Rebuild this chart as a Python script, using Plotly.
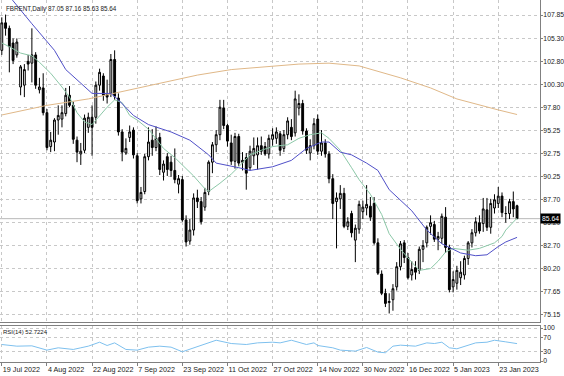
import plotly.graph_objects as go
import pandas as pd

# ---------------- data ----------------
trading_days = pd.bdate_range("2022-07-19", "2023-01-30")
closed_days = {"2022-12-26", "2023-01-02"}
dates = [f"{d.day} {d:%b %Y}" for d in trading_days if d.strftime("%Y-%m-%d") not in closed_days]

tick_labels = ["19 Jul 2022", "4 Aug 2022", "22 Aug 2022", "7 Sep 2022", "23 Sep 2022",
               "11 Oct 2022", "27 Oct 2022", "14 Nov 2022", "30 Nov 2022", "16 Dec 2022",
               "5 Jan 2023", "23 Jan 2023"]

opens = [104.0, 107.0, 106.4, 104.8, 103.5, 100.0, 100.2, 102.8, 102.6, 103.5,
         99.7, 99.9, 97.2, 93.5, 94.0, 96.4, 96.5, 97.1, 99.1, 98.0,
         94.2, 92.7, 93.1, 95.6, 96.7, 96.7, 100.2, 101.2, 99.2, 99.3,
         103.0, 98.8, 95.1, 92.8, 94.5, 95.3, 92.5, 87.8, 88.6, 92.4,
         94.2, 93.4, 94.5, 90.7, 92.4, 91.8, 90.9, 89.4, 89.9, 85.5,
         83.2, 84.4, 87.9, 87.5, 86.9, 88.6, 91.8, 93.7, 94.8, 97.7,
         95.8, 93.9, 91.9, 94.6, 91.8, 92.3, 91.2, 92.5, 92.6, 93.6,
         93.5, 92.7, 94.3, 94.4, 94.9, 93.3, 94.8, 95.6, 95.0, 97.7,
         98.2, 95.2, 92.8, 93.6, 96.5, 93.0, 93.9, 92.7, 90.0, 87.5,
         87.8, 88.4, 84.8, 86.2, 83.3, 84.5, 86.4, 86.8, 87.0, 87.3,
         83.0, 79.6, 77.5, 76.5, 76.8, 78.2, 80.4, 83.0, 81.4, 79.5,
         80.3, 80.0, 82.3, 83.0, 84.8, 85.0, 83.4, 83.5, 85.8, 82.5,
         78.2, 78.6, 79.2, 79.5, 81.3, 83.0, 84.1, 85.2, 85.1, 86.6,
         84.7, 86.8, 87.3, 88.1, 86.2, 86.2, 87.5, 87.05]
highs = [107.6, 107.9, 106.7, 105.3, 105.3, 102.4, 102.5, 103.5, 106.4, 103.8,
         101.0, 101.5, 97.6, 95.1, 96.6, 98.0, 98.0, 99.9, 100.1, 98.4,
         94.6, 93.9, 97.0, 97.2, 98.0, 100.6, 102.0, 101.5, 100.8, 103.6,
         104.0, 99.3, 95.4, 94.4, 95.8, 95.6, 92.8, 89.1, 92.7, 95.6,
         95.4, 95.7, 95.0, 92.0, 92.8, 92.5, 93.3, 90.4, 90.3, 86.0,
         85.6, 88.4, 88.8, 88.0, 89.0, 92.0, 94.0, 95.3, 98.6, 98.6,
         96.0, 94.8, 95.0, 94.9, 92.9, 92.8, 93.6, 94.5, 94.5, 94.6,
         94.0, 94.8, 95.5, 95.6, 95.2, 95.3, 96.7, 96.5, 99.6, 99.2,
         98.6, 95.5, 94.3, 96.6, 97.0, 95.3, 94.3, 93.0, 90.5, 88.5,
         89.3, 89.0, 85.8, 86.5, 85.0, 87.6, 87.6, 89.3, 88.0, 88.0,
         83.5, 80.0, 78.0, 77.5, 78.5, 80.9, 83.2, 83.3, 81.9, 81.0,
         81.0, 82.6, 83.3, 84.9, 86.0, 85.4, 84.2, 86.2, 86.9, 82.8,
         79.9, 80.5, 81.0, 81.6, 83.2, 84.5, 85.8, 86.0, 87.9, 87.9,
         87.8, 88.3, 89.1, 88.5, 87.0, 87.8, 88.6, 87.16]
lows = [103.5, 105.6, 101.6, 102.5, 103.2, 99.1, 98.9, 101.8, 100.5, 99.8,
        99.3, 96.9, 93.1, 92.9, 93.0, 94.8, 95.6, 96.8, 97.8, 93.8,
        91.8, 91.5, 92.8, 95.0, 92.5, 96.0, 99.6, 98.5, 98.2, 98.9,
        98.6, 94.7, 91.9, 92.6, 94.0, 92.2, 87.3, 87.3, 88.3, 92.0,
        92.5, 93.0, 90.4, 89.8, 90.3, 90.2, 89.5, 88.4, 85.3, 82.6,
        82.8, 83.8, 86.8, 85.0, 86.5, 88.2, 90.6, 92.9, 94.2, 95.4,
        93.5, 91.5, 91.1, 91.4, 90.9, 88.8, 90.9, 91.5, 91.0, 92.6,
        92.5, 92.2, 93.6, 93.8, 92.5, 92.9, 94.3, 94.2, 94.6, 96.9,
        94.8, 92.7, 92.0, 93.2, 92.6, 92.5, 92.3, 89.5, 85.6, 82.4,
        86.7, 84.6, 84.4, 83.6, 80.9, 84.0, 85.6, 86.0, 85.4, 82.8,
        79.5, 77.3, 76.0, 75.3, 75.6, 77.8, 80.0, 80.8, 79.0, 78.9,
        79.0, 79.6, 80.9, 82.5, 83.9, 83.1, 82.2, 82.9, 81.9, 77.6,
        77.6, 77.9, 78.4, 79.0, 80.6, 82.5, 83.7, 84.0, 84.2, 84.3,
        84.0, 86.2, 86.8, 85.8, 85.2, 85.6, 85.8, 85.63]
closes = [107.0, 106.4, 104.4, 102.9, 104.9, 102.2, 101.9, 102.5, 103.5, 100.2,
          100.0, 97.2, 93.4, 94.2, 96.4, 96.9, 97.2, 99.1, 98.0, 94.3,
          92.9, 93.0, 96.6, 96.7, 95.6, 100.2, 101.6, 99.1, 98.9, 103.0,
          99.0, 95.1, 92.9, 93.3, 95.1, 92.6, 87.6, 88.5, 92.4, 94.0,
          93.4, 94.4, 91.0, 91.6, 91.0, 90.9, 89.9, 90.0, 85.5, 83.1,
          84.4, 87.9, 87.5, 85.3, 88.5, 91.8, 93.7, 94.8, 97.8, 95.8,
          94.1, 91.9, 94.6, 91.7, 92.0, 90.6, 93.0, 93.3, 93.6, 93.0,
          92.7, 94.4, 94.8, 95.1, 93.1, 94.8, 96.3, 94.6, 98.7, 98.2,
          95.2, 93.1, 93.6, 96.0, 93.0, 93.9, 92.7, 90.0, 87.3, 87.9,
          88.4, 84.8, 85.3, 84.1, 84.6, 87.2, 86.9, 87.2, 85.8, 83.0,
          79.7, 77.5, 76.4, 76.6, 78.0, 80.4, 82.9, 81.4, 79.2, 80.1,
          79.8, 82.3, 82.7, 84.7, 85.2, 83.4, 83.7, 85.9, 82.5, 77.9,
          79.0, 80.0, 79.8, 81.3, 83.0, 84.1, 85.3, 84.3, 86.7, 84.7,
          87.3, 87.7, 88.1, 86.3, 86.2, 87.5, 86.7, 85.64]

# moving averages (bar index, value)
ma_slow_idx = [0, 3, 8, 14, 17, 21, 24, 29, 31, 35, 39, 45, 50, 55, 57, 63, 66, 72, 77, 81,
               85, 87, 90, 93, 97, 100, 103, 109, 113, 117, 122, 126, 129, 132, 134, 137]
ma_slow = [110.8, 109.4, 106.9, 104.0, 101.9, 100.4, 99.3, 99.3, 98.6, 96.9, 95.9, 95.1, 94.2,
           92.6, 91.7, 91.2, 90.9, 91.3, 92.0, 93.3, 94.0, 94.0, 92.9, 92.6, 91.7, 90.9, 88.8,
           86.5, 84.4, 82.9, 81.9, 81.6, 81.7, 82.6, 83.1, 83.6]
ma_fast_idx = [0, 2, 5, 8, 10, 13, 16, 18, 20, 22, 24, 26, 28, 30, 32, 34, 36, 39, 43, 46,
               48, 51, 54, 55, 58, 61, 63, 66, 69, 72, 76, 79, 82, 85, 87, 90, 93, 95, 98, 101,
               103, 106, 109, 111, 114, 116, 118, 120, 124, 127, 131, 133, 134, 137]
ma_fast = [104.8, 104.4, 103.7, 103.4, 102.7, 101.5, 100.0, 98.9, 97.2, 96.2, 95.9, 96.9, 97.8,
           98.6, 98.3, 96.9, 96.4, 95.4, 93.3, 92.3, 91.5, 90.3, 88.9, 88.6, 89.5, 90.5, 91.3,
           92.6, 93.1, 93.5, 93.7, 94.4, 94.8, 95.0, 94.4, 93.1, 91.2, 89.9, 88.3, 86.1, 84.0,
           82.3, 80.9, 80.0, 80.2, 81.0, 82.0, 82.4, 82.2, 82.4, 83.0, 83.7, 84.4, 85.7]
ma_long_idx = [0, 12, 23, 34, 43, 52, 61, 70, 79, 87, 95, 106, 114, 121, 127, 132, 137]
ma_long = [96.95, 98.0, 98.7, 99.7, 100.5, 101.3, 101.9, 102.2, 102.5, 102.6, 102.3, 101.0,
           99.9, 98.7, 98.0, 97.5, 97.0]

rsi_idx = [0, 4, 8, 12, 15, 19, 21, 23, 26, 28, 30, 33, 36, 39, 42, 45, 48, 51, 54, 57, 61,
           65, 68, 72, 74, 77, 81, 83, 84, 88, 90, 94, 97, 100, 102, 104, 106, 110, 113, 115,
           117, 119, 121, 123, 126, 129, 131, 134, 137]
rsi = [50, 45, 46, 33, 40, 35, 40, 45, 57, 47, 55, 35, 33, 42, 45, 42, 28, 40, 53, 63, 53,
       50, 55, 57, 55, 63, 50, 55, 47, 40, 33, 30, 41, 27, 25, 45, 48, 45, 55, 53,
       57, 40, 37, 45, 55, 57, 63, 58, 52.7224]

price_ticks = [107.85, 105.30, 102.80, 100.30, 97.80, 95.25, 92.75, 90.25, 87.70, 85.20,
               82.70, 80.20, 77.65, 75.15]
rsi_ticks = [0, 30, 70, 100]
last_price = 85.64
title_text = "FBRENT,Daily 87.05 87.16 85.63 85.64"
rsi_text = "RSI(14) 52.7224"

# ---------------- figure ----------------
FONT = "Liberation Sans"
GRID = "#c8c8c8"
FRAME = "#808080"
TXT = "#202020"

fig = go.Figure()
fig.add_trace(go.Scatter(x=[dates[i] for i in ma_long_idx], y=ma_long, mode="lines",
                         line=dict(color="#e0b888", width=1), xaxis="x", yaxis="y",
                         hoverinfo="skip", showlegend=False))
fig.add_trace(go.Candlestick(x=dates, open=opens, high=highs, low=lows, close=closes,
                             increasing=dict(line=dict(color="black", width=1), fillcolor="#e8e8e8"),
                             decreasing=dict(line=dict(color="black", width=1), fillcolor="black"),
                             whiskerwidth=0, xaxis="x", yaxis="y", showlegend=False,
                             hoverinfo="skip"))
fig.add_trace(go.Scatter(x=[dates[i] for i in ma_fast_idx], y=ma_fast, mode="lines",
                         line=dict(color="#8cc8a8", width=1), xaxis="x", yaxis="y",
                         hoverinfo="skip", showlegend=False))
fig.add_trace(go.Scatter(x=[dates[i] for i in ma_slow_idx], y=ma_slow, mode="lines",
                         line=dict(color="#5050c8", width=1), xaxis="x", yaxis="y",
                         hoverinfo="skip", showlegend=False))
fig.add_trace(go.Scatter(x=[dates[i] for i in rsi_idx], y=rsi, mode="lines",
                         line=dict(color="#7ec0ee", width=1), xaxis="x2", yaxis="y2",
                         hoverinfo="skip", showlegend=False))

xcommon = dict(type="category", categoryorder="array", categoryarray=dates,
               range=[-0.48, 143.1], tickvals=tick_labels, showgrid=True, gridcolor=GRID,
               griddash="dot", gridwidth=1, showline=True, mirror=True, linecolor=FRAME,
               linewidth=1, zeroline=False, fixedrange=True, automargin=False, tickangle=0)
ycommon = dict(side="right", showgrid=True, gridcolor=GRID, griddash="dot", gridwidth=1,
               showline=True, mirror=True, linecolor=FRAME, linewidth=1, zeroline=False,
               ticks="outside", ticklen=2, tickcolor=FRAME, ticklabelstandoff=-1,
               automargin=False,
               tickfont=dict(family=FONT, size=6.8, color=TXT), fixedrange=True)

fig.update_layout(
    width=564, height=376,
    margin=dict(l=0, r=24, t=0, b=14, autoexpand=False),
    paper_bgcolor="white", plot_bgcolor="white",
    showlegend=False,
    xaxis=dict(**xcommon, domain=[0, 1], anchor="y", showticklabels=False, ticks="",
               rangeslider=dict(visible=False)),
    xaxis2=dict(**xcommon, domain=[0, 1], anchor="y2", matches="x", ticktext=tick_labels,
                showticklabels=True, ticks="outside", ticklen=3, tickcolor=FRAME,
                ticklabelposition="outside right",
                tickfont=dict(family=FONT, size=7.2, color=TXT)),
    yaxis=dict(**ycommon, domain=[0.1105, 1], range=[74.37, 109.49], tickvals=price_ticks,
               ticktext=[f"{v:.2f}" for v in price_ticks]),
    yaxis2=dict(**ycommon, domain=[0, 0.1008], range=[-3, 107.6], tickvals=rsi_ticks,
                ticktext=[str(v) for v in rsi_ticks]),
    shapes=[dict(type="line", xref="paper", x0=0, x1=1, yref="y", y0=last_price, y1=last_price,
                 line=dict(color="#b8b8b8", width=1), layer="below")],
    annotations=[
        dict(text=title_text, xref="paper", yref="paper", x=0, y=1, xanchor="left",
             yanchor="top", xshift=4, yshift=-3, showarrow=False,
             font=dict(family=FONT, size=6.3, color=TXT)),
        dict(text=rsi_text, xref="paper", yref="y2 domain", x=0, y=1, xanchor="left",
             yanchor="top", xshift=1, yshift=-1, showarrow=False,
             font=dict(family=FONT, size=6, color=TXT)),
        dict(text=f"{last_price:.2f}", xref="paper", yref="y", x=1, y=last_price,
             xanchor="left", yanchor="middle", xshift=0, showarrow=False, bgcolor="black",
             borderpad=1, font=dict(family=FONT, size=6.8, color="white")),
    ],
)

fig.write_html("out.html", config={"displayModeBar": False, "staticPlot": True})

# remove the browser's default page margin so the figure sits at the window's corner
with open("out.html", encoding="utf-8") as f:
    html = f.read()
html = html.replace("<head>", "<head><style>html,body{margin:0;padding:0;overflow:hidden}</style>", 1)
with open("out.html", "w", encoding="utf-8") as f:
    f.write(html)
